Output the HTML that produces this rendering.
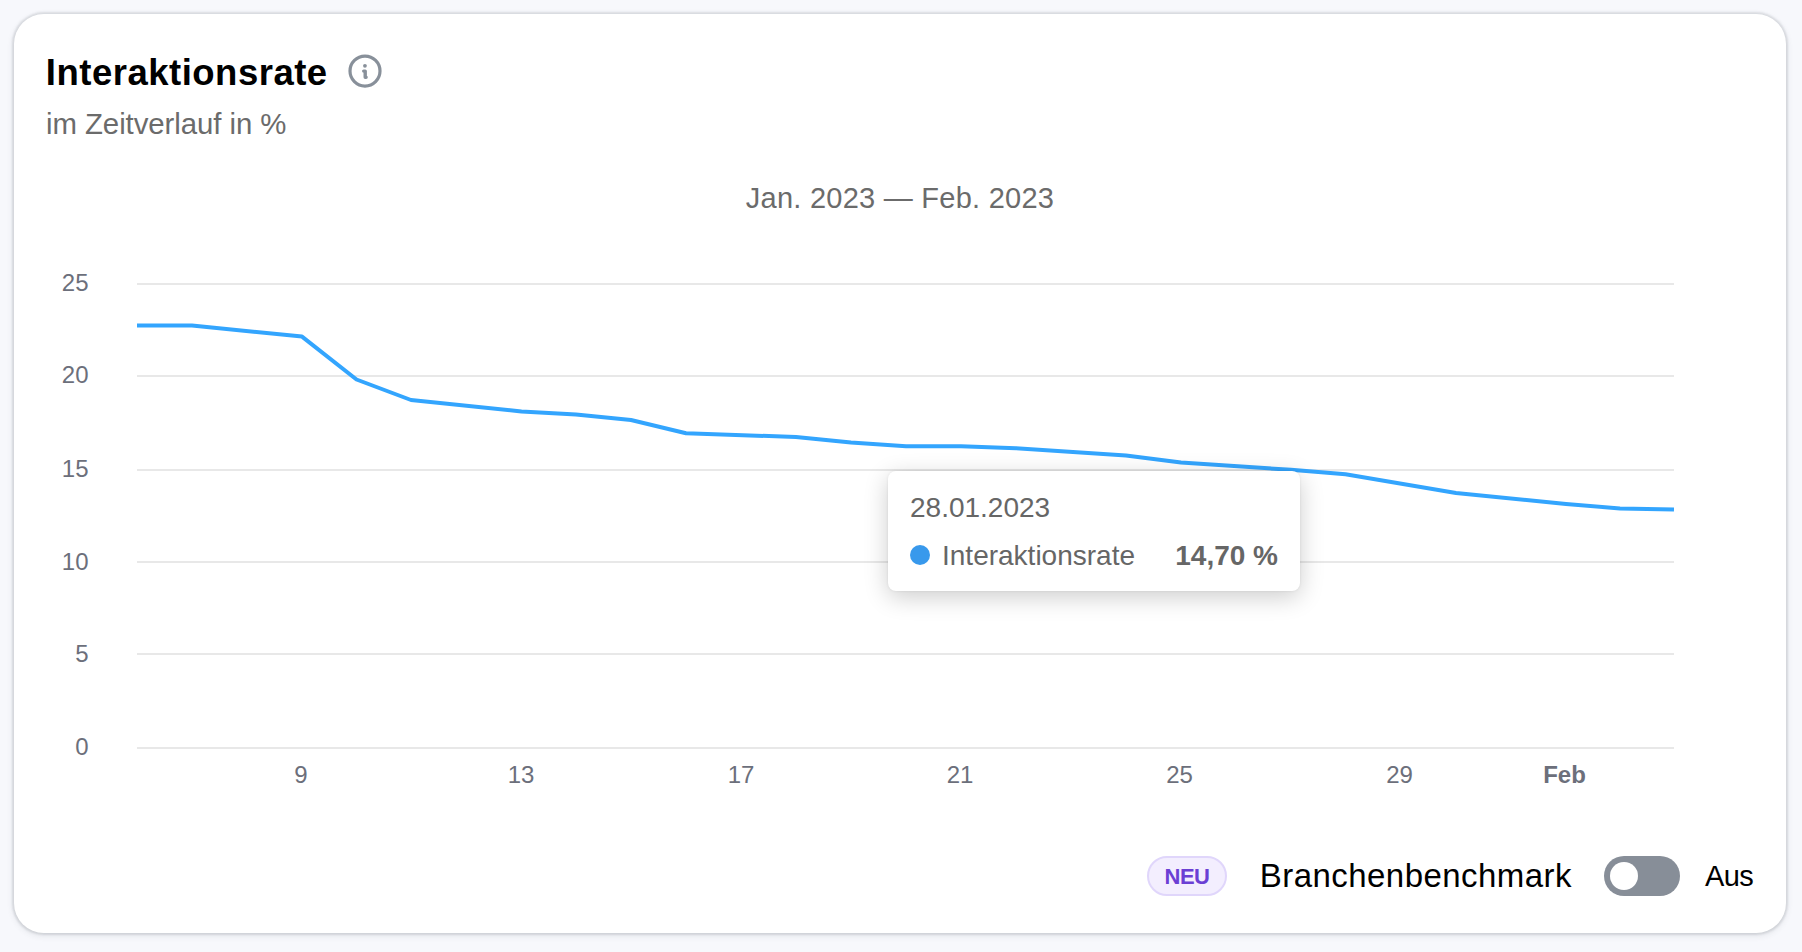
<!DOCTYPE html>
<html lang="de">
<head>
<meta charset="utf-8">
<title>Interaktionsrate</title>
<style>
  html, body { margin: 0; padding: 0; }
  body {
    width: 1802px; height: 952px; overflow: hidden; position: relative;
    background: #f7f8fc;
    font-family: "Liberation Sans", sans-serif;
    -webkit-font-smoothing: antialiased;
  }
  .card {
    position: absolute; left: 14px; top: 14px; width: 1772px; height: 919px;
    background: #fff; border-radius: 30px;
    box-shadow: 0 0 2px 2px rgba(58,66,74,0.125), 0 2px 6px 1px rgba(58,66,74,0.10);
  }
  .t { position: absolute; white-space: nowrap; line-height: 1; margin: 0; }
  #title { left: 45.8px; top: 54.5px; font-size: 36.5px; font-weight: 700; color: #000; letter-spacing: 0.5px; }
  #subtitle { left: 46px; top: 108.8px; font-size: 29.4px; color: #6b6b6b; font-weight: 400; letter-spacing: -0.07px; }
  #range { left: 600px; width: 600px; text-align: center; top: 184px; font-size: 29px; color: #6b6b6b; letter-spacing: 0.25px; }
  #chart { position: absolute; left: 0; top: 0; }
  #chart text { font-family: "Liberation Sans", sans-serif; font-size: 24px; fill: #6c6f7b; }
  .tooltip {
    position: absolute; left: 888px; top: 471px; width: 412px; height: 120px;
    background: #fff; border-radius: 8px;
    box-shadow: 0 6px 24px rgba(0,0,0,0.2), 0 0 3px rgba(0,0,0,0.08);
  }
  .tooltip .t { color: #666; font-size: 28px; }
  #tt-date { left: 22px; top: 23px; }
  #tt-dot { position: absolute; left: 22px; top: 74px; width: 20px; height: 20px; border-radius: 50%; background: #3899ec; }
  #tt-name { left: 54px; top: 71px; }
  #tt-val { right: 22px; top: 71px; font-weight: 700; }
  #badge {
    position: absolute; left: 1147px; top: 856px; width: 80px; height: 40px; box-sizing: border-box;
    border: 2px solid #e0d6fb; background: #f3eefe; border-radius: 20px;
    color: #6b3fd4; font-weight: 700; font-size: 22px; line-height: 37px; letter-spacing: -0.5px; text-align: center;
  }
  #bench { left: 1259.8px; top: 859px; font-size: 33px; color: #000; letter-spacing: 0.45px; }
  #toggle { position: absolute; left: 1604px; top: 856px; width: 76px; height: 40px; border-radius: 20px; background: #878e98; }
  #toggle i { position: absolute; left: 6px; top: 6px; width: 28px; height: 28px; border-radius: 50%; background: #fff; }
  #aus { left: 1705px; top: 861.8px; font-size: 29px; color: #000; letter-spacing: -0.6px; }
</style>
</head>
<body>
<div class="card"></div>

<h1 class="t" id="title">Interaktionsrate</h1>
<svg id="info" style="position:absolute;left:346px;top:52px" width="38" height="38" viewBox="0 0 38 38">
  <circle cx="19" cy="19.1" r="15" fill="none" stroke="#88909a" stroke-width="3.2"/>
  <circle cx="18.95" cy="13.85" r="1.9" fill="#88909a"/>
  <path d="M17.7 19.1H19.2V25.2H20.1" fill="none" stroke="#88909a" stroke-width="3.4" stroke-linecap="round" stroke-linejoin="round"/>
</svg>
<p class="t" id="subtitle">im Zeitverlauf in %</p>
<div class="t" id="range">Jan. 2023 — Feb. 2023</div>

<svg id="chart" width="1802" height="952" viewBox="0 0 1802 952">
  <g fill="#e8e8e8">
    <rect x="137" y="283" width="1537" height="2"/>
    <rect x="137" y="375" width="1537" height="2"/>
    <rect x="137" y="469" width="1537" height="2"/>
    <rect x="137" y="561" width="1537" height="2"/>
    <rect x="137" y="653" width="1537" height="2"/>
    <rect x="137" y="747" width="1537" height="2"/>
  </g>
  <g text-anchor="end">
    <text x="88.5" y="291">25</text>
    <text x="88.5" y="383">20</text>
    <text x="88.5" y="477">15</text>
    <text x="88.5" y="570">10</text>
    <text x="88.5" y="662">5</text>
    <text x="88.5" y="755">0</text>
  </g>
  <g text-anchor="middle">
    <text x="301" y="783">9</text>
    <text x="521" y="783">13</text>
    <text x="741" y="783">17</text>
    <text x="960" y="783">21</text>
    <text x="1179.5" y="783">25</text>
    <text x="1399.5" y="783">29</text>
    <text x="1564.5" y="783" style="font-weight:700">Feb</text>
  </g>
  <polyline fill="none" stroke="#33a5fe" stroke-width="4" stroke-linejoin="round" stroke-linecap="butt"
    points="137,325.6 192,325.6 302,336.6 356.5,379.5 411,400 521.5,411.4 576,414.4 631,420 686,433.2 796,437 851,442.6 906,446.2 961,446.3 1016,448.2 1126,455.6 1181,462.6 1291,469.8 1345.5,474.3 1456,493 1566,504 1620,508.4 1674,509.6"/>
</svg>

<div class="tooltip">
  <div class="t" id="tt-date">28.01.2023</div>
  <div id="tt-dot"></div>
  <div class="t" id="tt-name">Interaktionsrate</div>
  <div class="t" id="tt-val">14,70 %</div>
</div>

<div id="badge">NEU</div>
<div class="t" id="bench">Branchenbenchmark</div>
<div id="toggle"><i></i></div>
<div class="t" id="aus">Aus</div>
</body>
</html>
